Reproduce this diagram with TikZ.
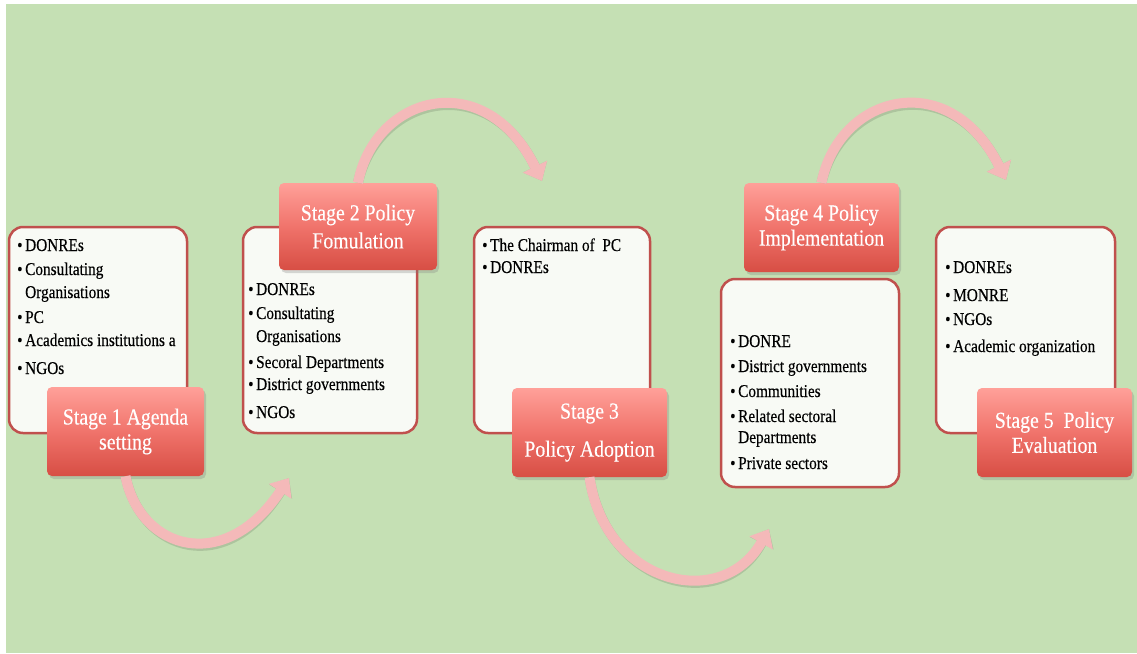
\documentclass[tikz,border=0pt]{standalone}
\usepackage{fontspec}
\setmainfont[FakeStretch=0.85]{Liberation Serif}
\newfontfamily\listfam[FakeStretch=0.85,FakeBold=0.3]{Liberation Serif}
\newfontfamily\stagefam[FakeStretch=0.86,FakeBold=0.3]{Liberation Serif}
\usetikzlibrary{shadows,arrows.meta,calc}
\definecolor{bg}{RGB}{197,224,180}
\definecolor{boxfill}{RGB}{248,250,245}
\definecolor{boxline}{RGB}{192,80,77}
\definecolor{stop}{RGB}{255,160,153}
\definecolor{smid}{RGB}{240,115,107}
\definecolor{sbot}{RGB}{215,78,68}
\definecolor{arr}{RGB}{244,185,185}
\newcommand{\lfont}{\listfam\fontsize{18}{24}\selectfont}
\newcommand{\stfont}{\stagefam\fontsize{23}{25}\selectfont}
\newcommand{\bul}{\makebox[8pt][l]{\textbullet}}
\newcommand{\nob}{\hspace*{8pt}}
\begin{document}
\begin{tikzpicture}[x=1pt,y=-1pt,
  listbox/.style={draw=boxline, line width=2.5pt, fill=boxfill, rounded corners=14pt, inner sep=0pt},
  stagebox/.style={rounded corners=5pt, top color=stop, bottom color=sbot, middle color=smid,
     inner sep=0pt, text=white, align=center, font=\stfont,
     drop shadow={opacity=0.3, shadow xshift=2pt, shadow yshift=-3pt}},
  lt/.style={anchor=base west, inner sep=0pt, font=\lfont, text=black},
  bigarrow/.style={draw=arr, line width=10pt, -{Triangle[length=16pt,width=26pt]}},
  arrshadow/.style={draw=black, draw opacity=0.12, line width=10pt, -{Triangle[length=16pt,width=26pt]}, xshift=2pt, yshift=-3pt}
]
\useasboundingbox (0,0) rectangle (1137,653);
\fill[white] (0,0) rectangle (1137,653);
\fill[bg] (6,4) rectangle (1137,653);

% list boxes
\node[listbox, minimum width=178pt, minimum height=206pt] (box1) at (98,330) {};
\node[listbox, minimum width=174pt, minimum height=206pt] (box2) at (330,330) {};
\node[listbox, minimum width=176pt, minimum height=206pt] (box3) at (562,330) {};
\node[listbox, minimum width=178pt, minimum height=208pt] (box4) at (810,383) {};
\node[listbox, minimum width=179pt, minimum height=206pt] (box5) at (1025.5,330) {};

% list texts
\foreach \y/\t/\k [count=\i] in {251/DONREs/1, 275/Consultating/1, 298/Organisations/0, 323/PC/1, 346/Academics institutions a/1, 374/NGOs/1}
  \node[lt] (b1-\i) at (17,\y) {\ifnum\k=1 \bul\else\nob\fi\t};
\foreach \y/\t/\k [count=\i] in {295/DONREs/1, 319/Consultating/1, 342/Organisations/0, 368/Secoral Departments/1, 390/District governments/1, 418/NGOs/1}
  \node[lt] (b2-\i) at (248,\y) {\ifnum\k=1 \bul\else\nob\fi\t};
\foreach \y/\t/\k [count=\i] in {251/The Chairman of~ PC/1, 273/DONREs/1}
  \node[lt] (b3-\i) at (482,\y) {\ifnum\k=1 \bul\else\nob\fi\t};
\foreach \y/\t/\k [count=\i] in {347/DONRE/1, 372/District governments/1, 397/Communities/1, 422/Related sectoral/1, 443/Departments/0, 469/Private sectors/1}
  \node[lt] (b4-\i) at (730,\y) {\ifnum\k=1 \bul\else\nob\fi\t};
\foreach \y/\t/\k [count=\i] in {273/DONREs/1, 301/MONRE/1, 325/NGOs/1, 352/Academic organization/1}
  \node[lt] (b5-\i) at (945,\y) {\ifnum\k=1 \bul\else\nob\fi\t};

% stage boxes
\node[stagebox, minimum width=157pt, minimum height=89pt] (s1) at (125.5,431.5) {Stage 1 Agenda\\setting};
\node[stagebox, minimum width=158pt, minimum height=87pt] (s2) at (358,226.5) {Stage 2 Policy\\[3pt]Fomulation};
\node[stagebox, minimum width=155pt, minimum height=89pt] (s3) at (589.5,432.5) {Stage 3\\[13pt]Policy Adoption};
\node[stagebox, minimum width=155pt, minimum height=89pt] (s4) at (821.5,227.5) {Stage 4 Policy\\Implementation};
\node[stagebox, minimum width=155pt, minimum height=89pt] (s5) at (1054.5,432.5) {Stage 5~ Policy\\Evaluation};

% arrow end points
\coordinate (t1) at (289,478);
\coordinate (t2) at (542,181);
\coordinate (t3) at (769,529);
\coordinate (t4) at (1006,180);

\draw[arrshadow] (s1.south) .. controls (140,550) and (225,575) .. (t1);
\draw[bigarrow] (s1.south) .. controls (140,550) and (225,575) .. (t1);
\draw[arrshadow] (s2.north) .. controls (375,95) and (485,65) .. (t2);
\draw[bigarrow] (s2.north) .. controls (375,95) and (485,65) .. (t2);
\draw[arrshadow] (s3.south) .. controls (605,585) and (722,612) .. (t3);
\draw[bigarrow] (s3.south) .. controls (605,585) and (722,612) .. (t3);
\draw[arrshadow] (s4.north) .. controls (839,95) and (949,65) .. (t4);
\draw[bigarrow] (s4.north) .. controls (839,95) and (949,65) .. (t4);
\end{tikzpicture}
\end{document}
